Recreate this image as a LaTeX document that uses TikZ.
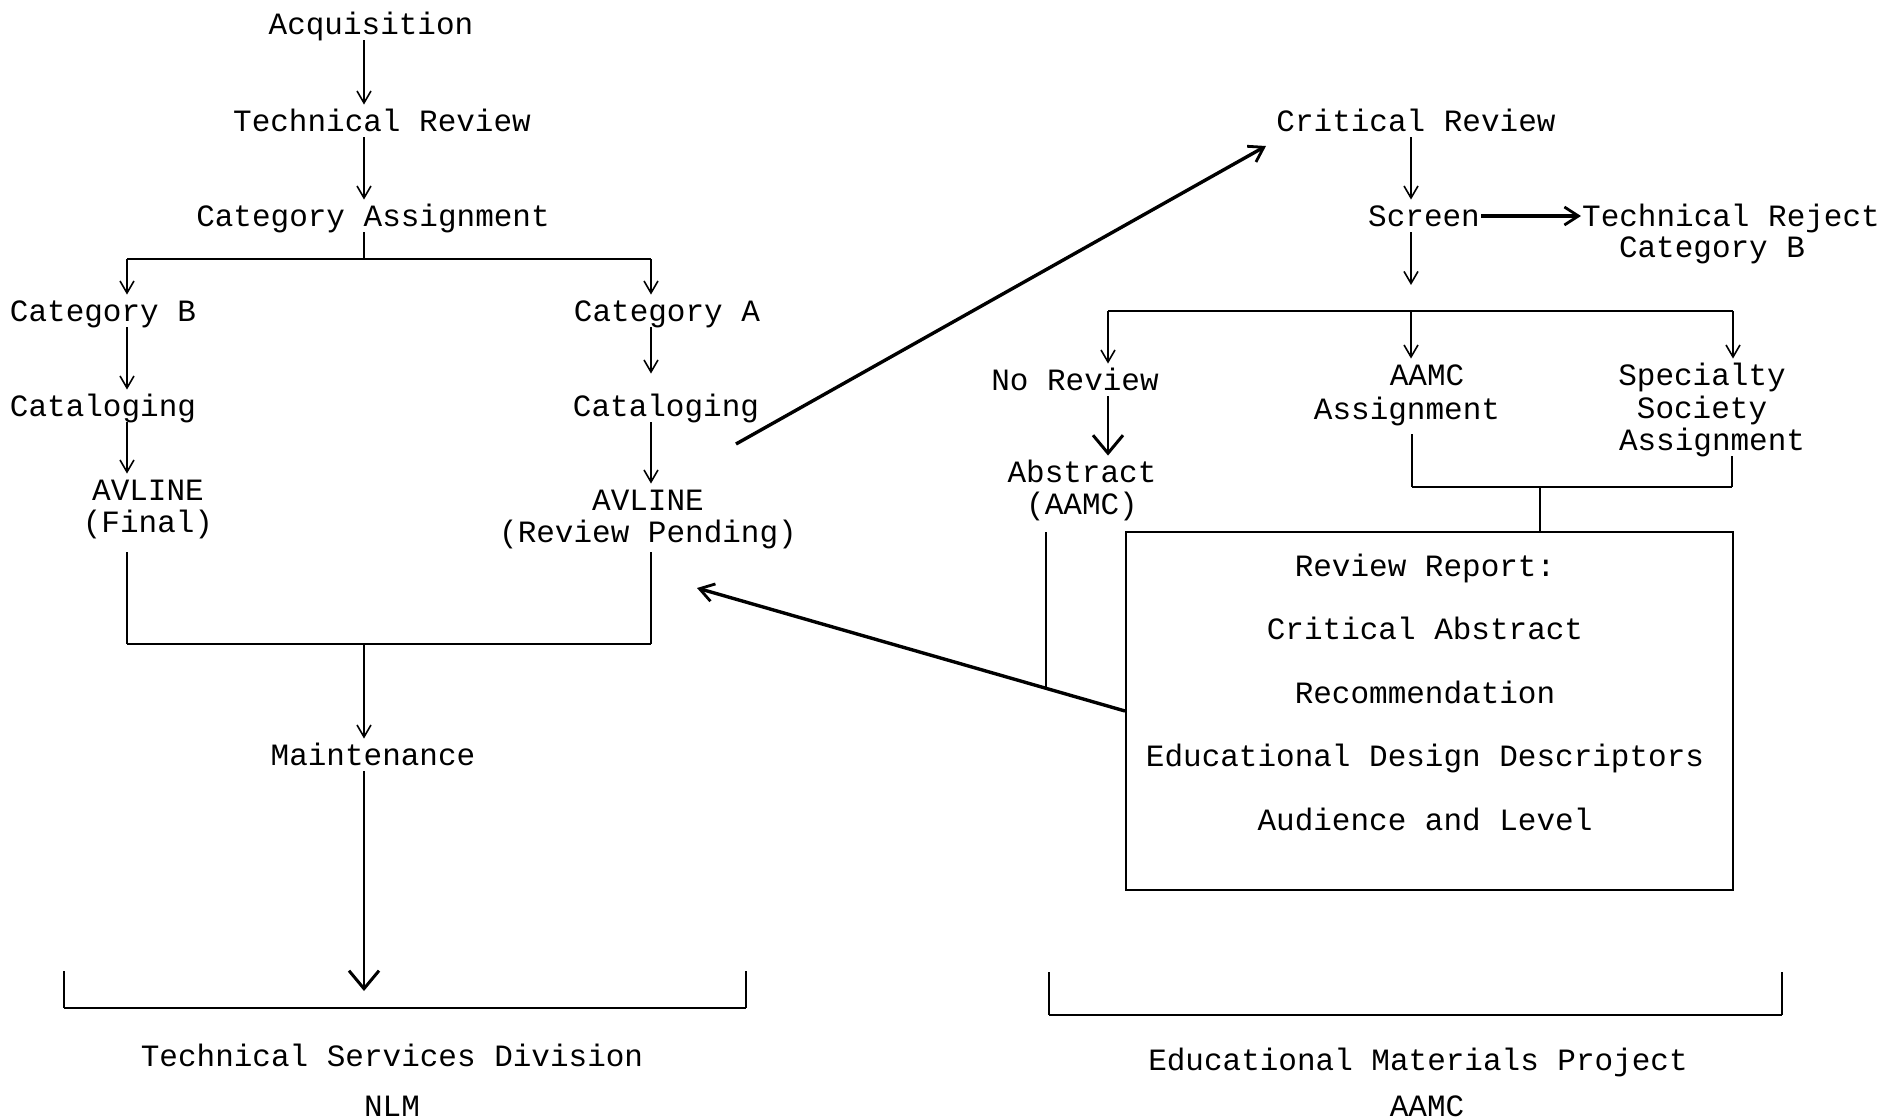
\documentclass[tikz,border=0pt]{standalone}
\usepackage{fontspec}
\newfontfamily\tw{Liberation Mono}
\usetikzlibrary{arrows.meta,calc}
\tikzset{
  lbl/.style={font=\tw\fontsize{31}{33}\selectfont, inner sep=1pt, align=center, text height=26pt, text depth=4.5pt},
  ln/.style={line width=1.6pt},
  arr/.style={ln, -{Straight Barb[length=12pt,width=14pt,line width=1.6pt]}},
  bigarr/.style={line width=2.6pt, -{Straight Barb[length=18pt,width=30pt,line width=3pt]}},
  tarr/.style={line width=3.4pt, -{Straight Barb[length=14pt,width=18pt,line width=2.8pt]}},
  hbar/.style={line width=2.4pt},
}
\begin{document}
\begin{tikzpicture}[x=1pt,y=-1pt]
\useasboundingbox[fill=white] (0,0) rectangle (1891,1119);

% ---- left column ----
\node[lbl] (acq) at (371,24) {Acquisition};
\node[lbl] (tr) at (382,121) {Technical Review};
\node[lbl] (ca) at (373,216) {Category Assignment};
\node[lbl] (cb) at (103,311) {Category B};
\node[lbl] (catA) at (667,311) {Category A};
\node[lbl] (clB) at (103,406) {Cataloging};
\node[lbl] (clA) at (666,406) {Cataloging};
\node[lbl] (avB1) at (148,490) {AVLINE};
\node[lbl] (avB2) at (148,522) {(Final)};
\node[lbl] (avA1) at (648,500) {AVLINE};
\node[lbl] (avA2) at (648,532) {(Review Pending)};
\node[lbl] (mnt) at (373,755) {Maintenance};
\node[lbl] (tsd) at (392,1056) {Technical Services Division};
\node[lbl] (nlm) at (392,1106) {NLM};

\coordinate (xL) at (364,0);
\coordinate (bl) at (127,259);
\coordinate (br) at (651,259);
\coordinate (jl) at (127,644);
\coordinate (jr) at (651,644);
\coordinate (tsdArr) at (364,991);
\coordinate (b1) at (64,971);
\coordinate (b2) at (64,1008);
\coordinate (b3) at (746,1008);
\coordinate (b4) at (746,971);

\draw[arr] (acq.south -| xL) -- (tr.north -| xL);
\draw[arr] (tr.south -| xL) -- (ca.north -| xL);
\draw[ln] (ca.south -| xL) -- (xL |- bl);
\draw[hbar] (bl) -- (br);
\draw[arr] (bl) -- (cb.north -| bl);
\draw[arr] (br) -- (catA.north -| br);
\draw[arr] (cb.south -| bl) -- (clB.north -| bl);
\draw[arr, shorten >=16pt] (catA.south -| br) -- (clA.north -| br);
\draw[arr] (clB.south -| bl) -- (avB1.north -| bl);
\draw[arr] (clA.south -| br) -- (avA1.north -| br);
\draw[ln] ([yshift=-14pt]avB2.south -| bl) -- (jl);
\draw[ln] ([yshift=-4pt]avA2.south -| br) -- (jr);
\draw[hbar] (jl) -- (jr);
\draw[arr] (xL |- jl) -- (mnt.north -| xL);
\draw[bigarr] (mnt.south -| xL) -- (tsdArr);
\draw[ln] (b1) -- (b2);
\draw[line width=2.6pt] (b2) -- (b3);
\draw[ln] (b3) -- (b4);

% ---- right column ----
\node[lbl] (cr) at (1416,121) {Critical Review};
\node[lbl] (scr) at (1424,216) {Screen};
\node[lbl] (rej1) at (1731,216) {Technical Reject};
\node[lbl] (rej2) at (1712,247) {Category B};
\node[lbl] (norev) at (1075,380) {No Review};
\node[lbl] (aamc1) at (1427,375) {AAMC};
\node[lbl] (aamc2) at (1407,409) {Assignment};
\node[lbl] (spec1) at (1702,375) {Specialty};
\node[lbl] (spec2) at (1702,408) {Society};
\node[lbl] (spec3) at (1712,440) {Assignment};
\node[lbl] (abs1) at (1082,472) {Abstract};
\node[lbl] (abs2) at (1082,504) {(AAMC)};
\node[draw, line width=2pt, minimum width=607pt, minimum height=358pt, inner sep=0pt] (box) at (1429.5,711) {};
\node[font=\tw\fontsize{31}{63.5}\selectfont, align=center, inner sep=0pt] (rep) at (1425,692)
  {Review Report:\\Critical Abstract\\Recommendation\\Educational Design Descriptors\\Audience and Level};
\node[lbl] (emp) at (1418,1060) {Educational Materials Project};
\node[lbl] (aamcl) at (1427,1106) {AAMC};

\coordinate (xR) at (1411,0);
\coordinate (scrEnd) at (1411,285);
\coordinate (r1) at (1108,311);
\coordinate (r3) at (1733,311);
\coordinate (q1) at (1412,487);
\coordinate (q2) at (1732,487);
\coordinate (avTip) at (697,588);
\coordinate (dStart) at (736,444);
\coordinate (dEnd) at (1266,146);
\coordinate (jx) at ($(box.west)!0.184!(avTip)$);
\coordinate (c1) at (1049,972);
\coordinate (c2) at (1049,1015);
\coordinate (c3) at (1782,1015);
\coordinate (c4) at (1782,972);

\draw[tarr] (dStart) -- (dEnd);
\draw[arr] (cr.south -| xR) -- (scr.north -| xR);
\draw[tarr] (scr.east) -- (rej1.west |- scr.east);
\draw[arr] (scr.south -| xR) -- (scrEnd);
\draw[hbar] (r1) -- (r3);
\draw[arr] (r1) -- (norev.north -| r1);
\draw[arr] (xR |- r1) -- (aamc1.north -| xR);
\draw[arr] (r3) -- (spec1.north -| r3);
\draw[bigarr] (norev.south -| r1) -- (abs1.north -| r1);
\draw[ln] ([yshift=-9pt]aamc2.south -| q1) -- (q1);
\draw[ln] (q2) -- (spec3.south -| q2);
\draw[hbar] (q1) -- (q2);
\draw[ln] ($(q1)!0.4!(q2)$) -- (box.north -| {$(q1)!0.4!(q2)$});
\draw[ln] ([yshift=-12pt]abs2.south -| jx) -- (jx);
\draw[tarr] (box.west) -- (avTip);
\draw[ln] (c1) -- (c2);
\draw[line width=2.6pt] (c2) -- (c3);
\draw[ln] (c3) -- (c4);
\end{tikzpicture}
\end{document}
